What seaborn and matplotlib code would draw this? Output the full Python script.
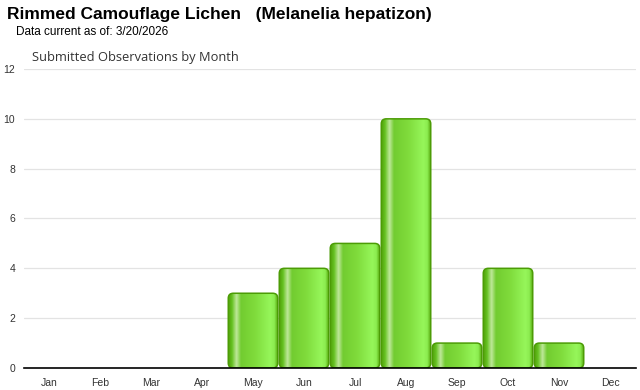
import numpy as np
import pandas as pd
import matplotlib
matplotlib.use('Agg')
import matplotlib.pyplot as plt
import seaborn as sns
from matplotlib.colors import LinearSegmentedColormap
from matplotlib.patches import FancyBboxPatch

# ── DATA ─────────────────────────────────────────────────────────────────────
MONTHS = ["Jan", "Feb", "Mar", "Apr", "May", "Jun",
          "Jul", "Aug", "Sep", "Oct", "Nov", "Dec"]
COUNTS = [0, 0, 0, 0, 3, 4, 5, 10, 1, 4, 1, 0]
Y_TICKS = [0, 2, 4, 6, 8, 10, 12]

TITLE = "Rimmed Camouflage Lichen   (Melanelia hepatizon)"
SUBTITLE = "Data current as of: 3/20/2026"
CHART_TITLE = "Submitted Observations by Month"

# horizontal "cylinder" shading of the bars
bar_cmap = LinearSegmentedColormap.from_list("bar", [
    (0.00, "#4f9e08"),
    (0.08, "#66c222"),
    (0.17, "#bfe89a"),
    (0.26, "#72cc30"),
    (0.55, "#80dc3c"),
    (0.85, "#96f65a"),
    (0.93, "#8cec50"),
    (1.00, "#55a80c"),
])

sns.set_style("white")
plt.rcParams['font.family'] = ['Liberation Sans', 'DejaVu Sans']

fig = plt.figure(figsize=(6.4, 3.9), dpi=100)
ax = fig.add_axes([23.5 / 640, 22 / 390, 612 / 640, 299 / 390])

df = pd.DataFrame({"month": MONTHS, "count": COUNTS})
sns.barplot(data=df, x="month", y="count", order=MONTHS, width=0.97,
            color="#80dc3c", ax=ax)

ax.set_xlim(-0.5, 11.5)
ax.set_ylim(0, 12)
ax.set_yticks(Y_TICKS)
ax.set_xlabel("")
ax.set_ylabel("")

# px -> data scale, for round corners of equal size in x and y
x_per_px = 12 / 612
y_per_px = 12 / 299
aspect = y_per_px / x_per_px
grad = np.linspace(0, 1, 256).reshape(1, -1)

for p in list(ax.patches):
    x0, w, h = p.get_x(), p.get_width(), p.get_height()
    p.remove()
    if h <= 0:
        continue
    box = FancyBboxPatch((x0, 0), w, h,
                         boxstyle=f"round,pad=0,rounding_size={5 * x_per_px}",
                         mutation_aspect=aspect,
                         facecolor="none", edgecolor="#4c9c06", lw=1.1,
                         zorder=3)
    ax.add_patch(box)
    im = ax.imshow(grad, cmap=bar_cmap, aspect="auto",
                   extent=(x0, x0 + w, 0, h), zorder=2.5,
                   interpolation="bilinear")
    im.set_clip_path(box)

ax.set_xlim(-0.5, 11.5)
ax.set_ylim(0, 12)

ax.grid(axis="y", color="#e3e3e3", lw=0.9)
ax.set_axisbelow(True)
for side in ["top", "right", "left"]:
    ax.spines[side].set_visible(False)
ax.spines["bottom"].set_color("black")
ax.spines["bottom"].set_linewidth(1.2)
ax.spines["bottom"].set_zorder(4)

ax.tick_params(axis="x", length=4, color="#cccccc", labelsize=7.5,
               labelcolor="#333333", pad=3)
ax.tick_params(axis="y", length=0, labelsize=7.5, labelcolor="#333333",
               pad=6)

fig.text(7 / 640, 1 - 15 / 390, TITLE, fontsize=12.5, fontweight="bold",
         va="center", ha="left", color="black")
fig.text(16 / 640, 1 - 32 / 390, SUBTITLE, fontsize=8.5,
         va="center", ha="left", color="black")
fig.text(32 / 640, 1 - 58 / 390, CHART_TITLE, fontsize=9.3,
         va="center", ha="left", color="#333333",
         family=["Open Sans", "DejaVu Sans"])

fig.savefig("out.png", dpi=100)
